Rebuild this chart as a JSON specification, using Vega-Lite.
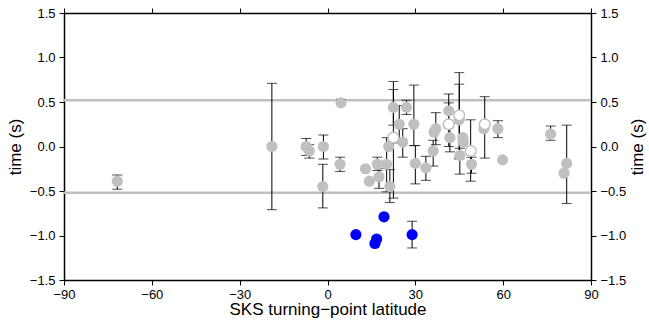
{
  "$schema": "https://vega.github.io/schema/vega-lite/v6.json",
  "width": 527,
  "height": 267,
  "autosize": "none",
  "padding": {"left": 64, "top": 13, "right": 58, "bottom": 40},
  "background": "white",
  "config": {
    "view": {"stroke": null},
    "font": "Liberation Sans",
    "axis": {
      "domainColor": "black", "domainWidth": 1.5,
      "tickColor": "black", "tickWidth": 1, "tickSize": 5,
      "labelColor": "black", "labelFont": "Liberation Sans", "labelFontSize": 13,
      "titleColor": "black", "titleFont": "Liberation Sans", "titleFontSize": 17, "titleFontWeight": "normal",
      "grid": false
    }
  },
  "datasets": {
    "pts": [
      {"lat": -71.8, "t": -0.39, "lo": -0.48, "hi": -0.32, "grp": "g"},
      {"lat": -19.0, "t": 0.0, "lo": -0.71, "hi": 0.71, "grp": "g"},
      {"lat": -7.3, "t": 0.0, "lo": -0.10, "hi": 0.09, "grp": "g"},
      {"lat": -6.2, "t": -0.05, "lo": -0.13, "hi": 0.02, "grp": "g"},
      {"lat": -1.4, "t": 0.0, "lo": -0.14, "hi": 0.13, "grp": "g"},
      {"lat": -1.6, "t": -0.45, "lo": -0.69, "hi": -0.20, "grp": "g"},
      {"lat": 4.6, "t": 0.49, "lo": 0.47, "hi": 0.53, "grp": "g"},
      {"lat": 4.3, "t": -0.20, "lo": -0.28, "hi": -0.12, "grp": "g"},
      {"lat": 13.0, "t": -0.25, "lo": null, "hi": null, "grp": "g"},
      {"lat": 14.3, "t": -0.39, "lo": null, "hi": null, "grp": "g"},
      {"lat": 17.0, "t": -0.20, "lo": -0.27, "hi": -0.12, "grp": "g"},
      {"lat": 17.6, "t": -0.34, "lo": -0.47, "hi": -0.25, "grp": "g"},
      {"lat": 20.2, "t": -0.20, "lo": -0.51, "hi": 0.10, "grp": "g"},
      {"lat": 21.3, "t": -0.45, "lo": -0.63, "hi": -0.26, "grp": "g"},
      {"lat": 20.9, "t": 0.0, "lo": null, "hi": null, "grp": "g"},
      {"lat": 22.5, "t": 0.44, "lo": 0.24, "hi": 0.64, "grp": "g"},
      {"lat": 24.5, "t": 0.25, "lo": 0.04, "hi": 0.46, "grp": "g"},
      {"lat": 25.7, "t": 0.05, "lo": -0.12, "hi": 0.20, "grp": "g"},
      {"lat": 27.0, "t": 0.44, "lo": 0.36, "hi": 0.52, "grp": "g"},
      {"lat": 29.5, "t": 0.25, "lo": 0.01, "hi": 0.69, "grp": "g"},
      {"lat": 30.0, "t": -0.19, "lo": -0.42, "hi": 0.01, "grp": "g"},
      {"lat": 33.6, "t": -0.24, "lo": -0.38, "hi": -0.11, "grp": "g"},
      {"lat": 36.1, "t": -0.05, "lo": -0.22, "hi": 0.07, "grp": "g"},
      {"lat": 36.4, "t": 0.16, "lo": null, "hi": null, "grp": "g"},
      {"lat": 37.0, "t": 0.20, "lo": 0.02, "hi": 0.38, "grp": "g"},
      {"lat": 41.4, "t": 0.40, "lo": 0.21, "hi": 0.59, "grp": "g"},
      {"lat": 41.8, "t": 0.10, "lo": -0.06, "hi": 0.26, "grp": "g"},
      {"lat": 45.0, "t": 0.30, "lo": -0.14, "hi": 0.70, "grp": "g"},
      {"lat": 46.2, "t": 0.10, "lo": null, "hi": null, "grp": "g"},
      {"lat": 46.4, "t": 0.05, "lo": null, "hi": null, "grp": "g"},
      {"lat": 45.2, "t": -0.10, "lo": -0.31, "hi": -0.02, "grp": "g"},
      {"lat": 49.2, "t": -0.20, "lo": -0.30, "hi": -0.12, "grp": "g"},
      {"lat": 53.4, "t": 0.20, "lo": null, "hi": null, "grp": "g"},
      {"lat": 58.2, "t": 0.20, "lo": 0.10, "hi": 0.29, "grp": "g"},
      {"lat": 59.8, "t": -0.15, "lo": null, "hi": null, "grp": "g"},
      {"lat": 76.2, "t": 0.14, "lo": 0.07, "hi": 0.23, "grp": "g"},
      {"lat": 81.7, "t": -0.19, "lo": -0.64, "hi": 0.24, "grp": "g"},
      {"lat": 80.8, "t": -0.30, "lo": null, "hi": null, "grp": "g"},
      {"lat": 22.5, "t": 0.10, "lo": -0.58, "hi": 0.73, "grp": "w"},
      {"lat": 41.4, "t": 0.25, "lo": 0.0, "hi": 0.49, "grp": "w"},
      {"lat": 45.0, "t": 0.35, "lo": -0.13, "hi": 0.83, "grp": "w"},
      {"lat": 48.9, "t": -0.05, "lo": -0.39, "hi": 0.30, "grp": "w"},
      {"lat": 53.7, "t": 0.25, "lo": -0.13, "hi": 0.56, "grp": "w"},
      {"lat": 9.7, "t": -0.99, "lo": null, "hi": null, "grp": "b"},
      {"lat": 19.3, "t": -0.79, "lo": null, "hi": null, "grp": "b"},
      {"lat": 16.8, "t": -1.04, "lo": null, "hi": null, "grp": "b"},
      {"lat": 16.2, "t": -1.09, "lo": null, "hi": null, "grp": "b"},
      {"lat": 28.9, "t": -0.99, "lo": -1.14, "hi": -0.84, "grp": "b"}
    ],
    "lines": [{"g": 0.52}, {"g": -0.52}]
  },
  "resolve": {"axis": {"x": "independent", "y": "independent"}},
  "layer": [
    {
      "data": {"name": "lines"},
      "mark": {"type": "rule", "color": "#c0c0c0", "strokeWidth": 2.5},
      "encoding": {
        "y": {"field": "g", "type": "quantitative", "scale": {"domain": [-1.5, 1.5], "nice": false, "zero": false}, "axis": null}
      }
    },
    {
      "data": {"name": "pts"},
      "transform": [{"filter": "datum.lo != null"}],
      "mark": {"type": "errorbar", "ticks": {"size": 10, "color": "black", "strokeWidth": 1}, "rule": {"color": "black", "strokeWidth": 1}},
      "encoding": {
        "x": {"field": "lat", "type": "quantitative", "scale": {"domain": [-90, 90], "nice": false, "zero": false}, "axis": null},
        "y": {"field": "lo", "type": "quantitative", "scale": {"domain": [-1.5, 1.5], "nice": false, "zero": false}, "axis": null},
        "y2": {"field": "hi"}
      }
    },
    {
      "data": {"name": "pts"},
      "transform": [{"filter": "datum.grp == 'g'"}],
      "mark": {"type": "point", "filled": true, "color": "#c0c0c0", "opacity": 1, "size": 125},
      "encoding": {
        "x": {"field": "lat", "type": "quantitative", "scale": {"domain": [-90, 90], "nice": false, "zero": false},
          "axis": {"orient": "bottom", "title": "SKS turning\u2212point latitude", "values": [-90, -60, -30, 0, 30, 60, 90], "format": "d", "labelPadding": 3, "titlePadding": 0, "labelFlush": false}},
        "y": {"field": "t", "type": "quantitative", "scale": {"domain": [-1.5, 1.5], "nice": false, "zero": false},
          "axis": {"orient": "left", "title": "time (s)", "values": [-1.5, -1.0, -0.5, 0, 0.5, 1.0, 1.5], "format": ".1f", "labelPadding": 4, "titlePadding": 5, "labelFlush": false}}
      }
    },
    {
      "data": {"name": "pts"},
      "transform": [{"filter": "datum.grp == 'w'"}],
      "mark": {"type": "point", "filled": true, "fill": "white", "stroke": "#c0c0c0", "strokeWidth": 1.5, "opacity": 1, "size": 115},
      "encoding": {
        "x": {"field": "lat", "type": "quantitative", "scale": {"domain": [-90, 90], "nice": false, "zero": false},
          "axis": {"orient": "top", "title": null, "labels": false, "values": [-90, -60, -30, 0, 30, 60, 90]}},
        "y": {"field": "t", "type": "quantitative", "scale": {"domain": [-1.5, 1.5], "nice": false, "zero": false},
          "axis": {"orient": "right", "title": "time (s)", "titleAngle": -90, "titleBaseline": "top", "values": [-1.5, -1.0, -0.5, 0, 0.5, 1.0, 1.5], "format": ".1f", "labelPadding": 4, "titlePadding": 4, "labelFlush": false}}
      }
    },
    {
      "data": {"name": "pts"},
      "transform": [{"filter": "datum.grp == 'b'"}],
      "mark": {"type": "point", "filled": true, "color": "blue", "opacity": 1, "size": 125},
      "encoding": {
        "x": {"field": "lat", "type": "quantitative", "scale": {"domain": [-90, 90], "nice": false, "zero": false}, "axis": null},
        "y": {"field": "t", "type": "quantitative", "scale": {"domain": [-1.5, 1.5], "nice": false, "zero": false}, "axis": null}
      }
    }
  ]
}
